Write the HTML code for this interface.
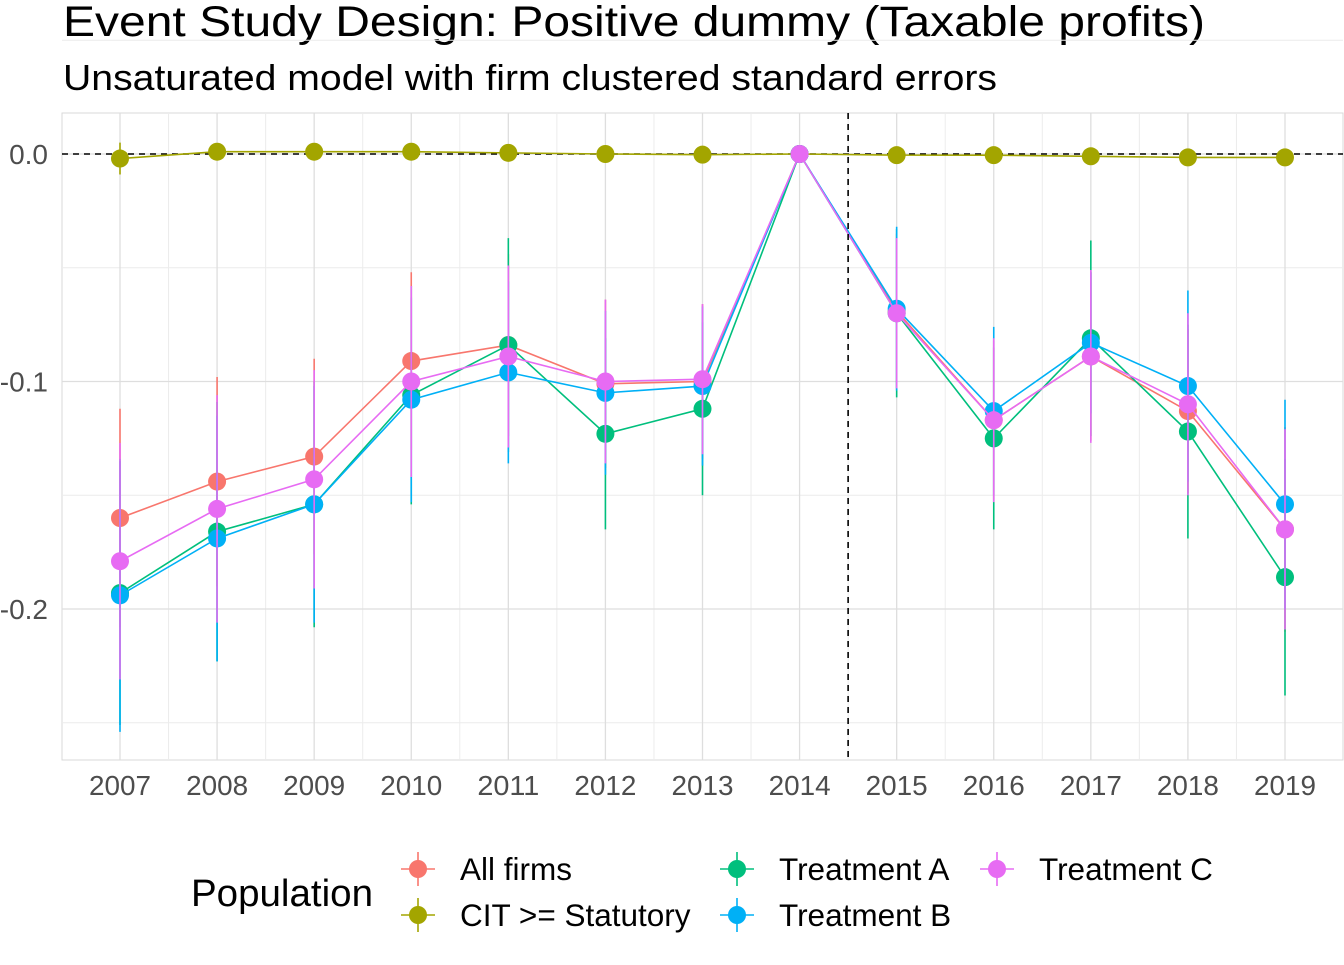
<!DOCTYPE html>
<html><head><meta charset="utf-8"><style>
body{margin:0;background:#fff;}
svg text{font-family:"Liberation Sans",Arial,sans-serif;}
</style></head><body>
<svg id="chart" width="1344" height="960" xmlns="http://www.w3.org/2000/svg">
<text x="63" y="36" font-size="43" textLength="1142" lengthAdjust="spacingAndGlyphs" fill="#000">Event Study Design: Positive dummy (Taxable profits)</text>
<text x="63" y="90" font-size="36" textLength="934" lengthAdjust="spacingAndGlyphs" fill="#000">Unsaturated model with firm clustered standard errors</text>
<g id="grid"></g><g id="marks"></g><g id="axes"></g>
<g id="legend">
<text x="191" y="906" font-size="38" textLength="182" lengthAdjust="spacingAndGlyphs" fill="#000">Population</text>
</g>
</svg>
<script>
const years=[2007,2008,2009,2010,2011,2012,2013,2014,2015,2016,2017,2018,2019];
const seriesNames=["All firms","CIT >= Statutory","Treatment A","Treatment B","Treatment C"];
const allFirms=[-0.160,-0.144,-0.133,-0.091,-0.084,-0.101,-0.100,0,-0.069,-0.117,-0.089,-0.113,-0.165];
const allFirmsSE=[0.048,0.046,0.043,0.039,0.040,0.037,0.034,0,0.034,0.035,0.037,0.036,0.045];
const citStat=[-0.002,0.001,0.001,0.001,0.0005,0,-0.0003,0,-0.0005,-0.0005,-0.001,-0.0015,-0.0015];
const citStatSE=[0.007,0.002,0.002,0.002,0.002,0.002,0.002,0,0.002,0.002,0.002,0.002,0.002];
const treatA=[-0.193,-0.166,-0.154,-0.106,-0.084,-0.123,-0.112,0,-0.070,-0.125,-0.081,-0.122,-0.186];
const treatASE=[0.058,0.057,0.054,0.048,0.047,0.042,0.038,0,0.037,0.040,0.043,0.047,0.052];
const treatB=[-0.194,-0.169,-0.154,-0.108,-0.096,-0.105,-0.102,0,-0.068,-0.113,-0.083,-0.102,-0.154];
const treatBSE=[0.060,0.054,0.052,0.045,0.040,0.036,0.035,0,0.036,0.037,0.031,0.042,0.046];
const treatC=[-0.179,-0.156,-0.143,-0.100,-0.089,-0.100,-0.099,0,-0.070,-0.117,-0.089,-0.110,-0.165];
const treatCSE=[0.052,0.050,0.048,0.042,0.040,0.036,0.033,0,0.033,0.036,0.038,0.040,0.044];
const yTicks=[0,-0.1,-0.2];
const yTickLabels=["0.0","-0.1","-0.2"];
const colors=["#F8766D","#A3A500","#00BF7D","#00B0F6","#E76BF3"];
const X0=62,X1=1343,Y0=113,Y1=760;
const xs=y=>120+(y-2007)*(1285-120)/12;
const ys=v=>154-v*2275;
const NS="http://www.w3.org/2000/svg";
function mk(tag,attrs,parent){const e=document.createElementNS(NS,tag);for(const k in attrs)e.setAttribute(k,attrs[k]);parent.appendChild(e);return e;}
const grid=document.getElementById('grid'),marks=document.getElementById('marks'),axes=document.getElementById('axes');
const bg=mk('rect',{x:X0,y:Y0,width:X1-X0,height:Y1-Y0,fill:'#fff',stroke:'#d9d9d9','stroke-width':1},grid);


for(let i=0;i<years.length-1;i++){const x=(xs(years[i])+xs(years[i+1]))/2;mk('line',{x1:x,x2:x,y1:Y0,y2:Y1,stroke:'#ececec','stroke-width':1},grid);}
[0.05,-0.05,-0.15,-0.25].forEach(v=>mk('line',{x1:X0,x2:X1,y1:ys(v),y2:ys(v),stroke:'#ececec','stroke-width':1},grid));
years.forEach(y=>mk('line',{x1:xs(y),x2:xs(y),y1:Y0,y2:Y1,stroke:'#dedede','stroke-width':1.3},grid));
yTicks.forEach(v=>mk('line',{x1:X0,x2:X1,y1:ys(v),y2:ys(v),stroke:'#dedede','stroke-width':1.3},grid));
const data=[[allFirms,allFirmsSE],[citStat,citStatSE],[treatA,treatASE],[treatB,treatBSE],[treatC,treatCSE]];
const hl=mk('line',{x1:X0,x2:X1,y1:ys(0),y2:ys(0),stroke:'#000','stroke-width':1.6,'stroke-dasharray':'6,5'},marks);


data.forEach((d,si)=>{
  const g=mk('g',{},marks);
  
  
  d[0].forEach((v,i)=>{if(d[1][i]>0){const l=mk('line',{x1:xs(years[i]),x2:xs(years[i]),y1:ys(v+d[1][i]),y2:ys(v-d[1][i]),stroke:colors[si],'stroke-width':1.6},g);
    
    }});
  const p=mk('polyline',{points:d[0].map((v,i)=>xs(years[i])+','+ys(v)).join(' '),fill:'none',stroke:colors[si],'stroke-width':1.6},g);
  
  
  d[0].forEach((v,i)=>{const c=mk('circle',{cx:xs(years[i]),cy:ys(v),r:9,fill:colors[si]},g);
    
    });
});
const vl=mk('line',{x1:(xs(2014)+xs(2015))/2,x2:(xs(2014)+xs(2015))/2,y1:Y0,y2:Y1,stroke:'#000','stroke-width':1.6,'stroke-dasharray':'6,5'},marks);


years.forEach(y=>{const t=mk('text',{x:xs(y),y:795,'font-size':28,textLength:62,lengthAdjust:'spacingAndGlyphs',fill:'#4d4d4d','text-anchor':'middle'},axes);t.textContent=y;
  
  });
yTicks.forEach((v,i)=>{const t=mk('text',{x:48,y:ys(v)+10,'font-size':28,fill:'#4d4d4d','text-anchor':'end'},axes);t.textContent=yTickLabels[i];
  
  });
const leg=document.getElementById('legend');
const legPos=[[418,869],[418,915],[737,869],[737,915],[997,869]];
seriesNames.forEach((n,i)=>{const [x,y]=legPos[i];const g=mk('g',{},leg);
  
  
  mk('line',{x1:x-17,x2:x+17,y1:y,y2:y,stroke:colors[i],'stroke-width':1.6},g);
  mk('line',{x1:x,x2:x,y1:y-17,y2:y+17,stroke:colors[i],'stroke-width':1.6},g);
  mk('circle',{cx:x,cy:y,r:9,fill:colors[i]},g);
  const t=mk('text',{x:x+42,y:y+11,'font-size':31.5,fill:'#000'},g);t.textContent=n;});
</script>
</body></html>
